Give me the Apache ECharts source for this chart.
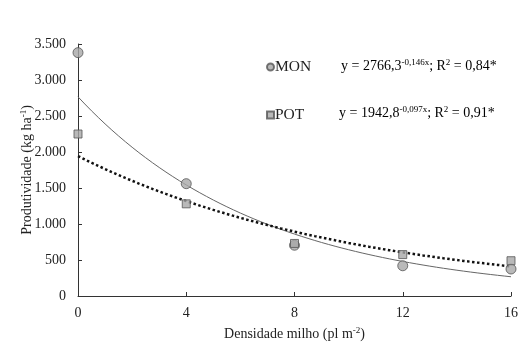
<!DOCTYPE html>
<html><head><meta charset="utf-8">
<script src="https://cdn.jsdelivr.net/npm/echarts@6/dist/echarts.min.js"></script>
<style>html,body{margin:0;padding:0;background:#fff}#c{width:532px;height:355px}</style>
</head><body><div id="c"></div>
<script>
var densities = [0, 4, 8, 12, 16];
var monValues = [3380, 1560, 705, 420, 375];
var potValues = [2250, 1280, 730, 575, 490];
var yTicks = [0, 500, 1000, 1500, 2000, 2500, 3000, 3500];
var xTicks = [0, 4, 8, 12, 16];
// fitted models printed on the chart: y = a * e^(b x)
var monFit = [2766.3, -0.146];
var potFit = [1942.8, -0.097];

var F = '"Liberation Serif", "Times New Roman", serif';
function fitCurve(c) {
  var out = [];
  for (var i = 0; i <= 64; i++) { var x = i / 4; out.push([x, c[0] * Math.exp(c[1] * x)]); }
  return out;
}
function pairs(xs, ys) { return xs.map(function (x, i) { return [x, ys[i]]; }); }
var sup = { fontSize: 9, fontFamily: F, color: '#222', verticalAlign: 'top', lineHeight: 16 };
var base = { fontSize: 14, fontFamily: F, color: '#222', lineHeight: 16 };

var chart = echarts.init(document.getElementById('c'), null, { renderer: 'canvas' });
chart.setOption({
  animation: false,
  backgroundColor: '#fff',
  grid: { left: 78, right: 21, top: 44, bottom: 59 },
  xAxis: {
    type: 'value', min: 0, max: 16, interval: 4,
    name: 'Densidade milho (pl m{s|-2}{b|)}', nameLocation: 'middle', nameGap: 30, nameMoveOverlap: false,
    nameTextStyle: { fontSize: 14, fontFamily: F, color: '#222', rich: { s: sup, b: base } },
    axisLine: { lineStyle: { color: '#333', width: 1 } },
    axisTick: { inside: true, length: 4, lineStyle: { color: '#333' } },
    axisLabel: { fontSize: 14, fontFamily: F, color: '#222', margin: 10,
      formatter: function (v) { return xTicks.indexOf(v) >= 0 ? String(v) : ''; } },
    splitLine: { show: false }
  },
  yAxis: {
    type: 'value', min: 0, max: 3500, interval: 500,
    name: 'Produtividade (kg ha{s|-1}{b|)}', nameLocation: 'middle', nameGap: 43, nameRotate: 90, nameMoveOverlap: false,
    nameTextStyle: { fontSize: 14, fontFamily: F, color: '#222', rich: { s: sup, b: base } },
    axisLine: { show: true, lineStyle: { color: '#333', width: 1 } },
    axisTick: { show: true, inside: true, length: 4, lineStyle: { color: '#333' } },
    axisLabel: { fontSize: 14, fontFamily: F, color: '#222', margin: 12,
      formatter: function (v) { return yTicks.indexOf(v) >= 0 ? v.toLocaleString('de-DE') : ''; } },
    splitLine: { show: false }
  },
  legend: {
    left: 261, top: 54, orient: 'vertical', itemGap: 32, itemWidth: 7, itemHeight: 7,
    data: [{ name: 'MON', icon: 'circle' }, { name: 'POT', icon: 'rect' }],
    textStyle: { fontSize: 15.5, fontFamily: F, color: '#222', padding: [0, 0, 0, -4] }
  },
  graphic: [
    { type: 'text', left: 341, top: 58, style: { text: '{b|y = 2766,3}{s|-0,146x}{b|; R}{s|2}{b| = 0,84*}', rich: { b: base, s: sup } } },
    { type: 'text', left: 339, top: 105, style: { text: '{b|y = 1942,8}{s|-0,097x}{b|; R}{s|2}{b| = 0,91*}', rich: { b: base, s: sup } } }
  ],
  series: [
    { name: 'MONfit', type: 'line', data: fitCurve(monFit), showSymbol: false, symbol: 'none', smooth: false,
      lineStyle: { color: '#666', width: 1 }, z: 2, silent: true },
    { name: 'POTfit', type: 'line', data: fitCurve(potFit), showSymbol: false, symbol: 'none',
      lineStyle: { color: '#111', width: 2.5, type: [2.5, 2.5] }, z: 2, silent: true },
    { name: 'MON', type: 'scatter', data: pairs(densities, monValues), symbol: 'circle', symbolSize: 10,
      itemStyle: { color: '#a8a8a8', borderColor: '#555', borderWidth: 1 }, z: 3 },
    { name: 'POT', type: 'scatter', data: pairs(densities, potValues), symbol: 'rect', symbolSize: 8,
      itemStyle: { color: '#a8a8a8', borderColor: '#555', borderWidth: 1 }, z: 3 }
  ]
});
</script></body></html>
